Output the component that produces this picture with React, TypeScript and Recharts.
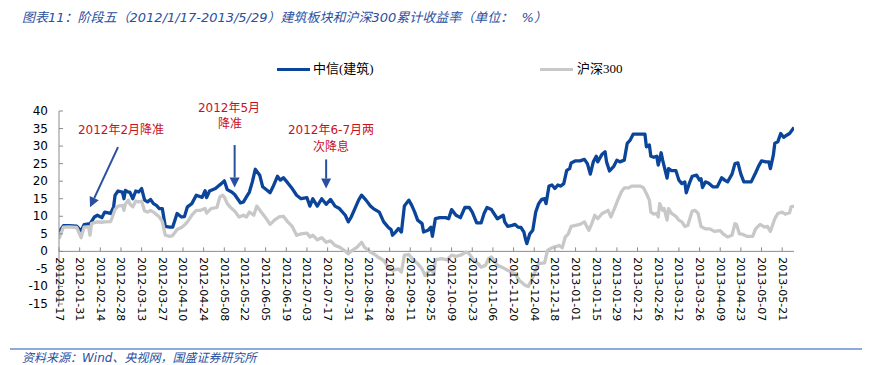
import React from 'react';
import { LineChart, Line, XAxis, YAxis, ReferenceLine } from 'recharts';

// x = calendar days since 2012-01-17, y = cumulative return (%)
const citicDays = [
  0, 3, 7, 12, 15, 17, 20, 21, 22, 24, 26, 29, 31, 35, 37, 38, 40, 43, 44, 45, 47, 48, 50, 52, 54, 56, 58, 60, 62, 64,
  66, 68, 70, 72, 75, 77, 80, 83, 85, 87, 90, 93, 97, 99, 100, 102, 106, 108, 110, 112, 114, 117, 119, 121, 123, 125,
  127, 129, 131, 133, 136, 138, 141, 143, 145, 148, 150, 152, 155, 158, 161, 164, 168, 170, 172, 175, 178, 181, 184,
  187, 190, 194, 196, 198, 201, 203, 205, 208, 211, 213, 215, 217, 220, 223, 225, 226, 228, 230, 232, 234, 237, 239,
  241, 243, 246, 247, 250, 252, 253, 255, 258, 262, 264, 266, 269, 272, 275, 278, 280, 283, 286, 288, 290, 293, 297,
  299, 301, 302, 304, 307, 309, 311, 313, 315, 316, 317, 319, 321, 323, 325, 327, 329, 330, 332, 334, 336, 338, 340,
  342, 344, 346, 347, 350, 353, 356, 358, 360, 362, 364, 365, 368, 370, 371, 373, 376, 378, 380, 383, 385, 387, 389,
  394, 397, 398, 400, 401, 403, 405, 406, 408, 409, 412, 413, 415, 418, 420, 422, 424, 425, 427, 429, 432, 434, 435,
  436, 438, 440, 443, 446, 449, 451, 453, 456, 458, 460, 462, 464, 467, 469, 472, 474, 476, 479, 481, 482, 484, 485,
  487, 489, 491, 493, 495, 498,
];
const citic = [
  5.5, 7.3, 7.3, 7.2, 5.8, 7.6, 7.8, 7.8, 8.5, 9.8, 10.3, 9.6, 11.2, 10.8, 12.7, 16.0, 17.2, 16.9, 15.0, 17.4, 16.9,
  16.9, 15.0, 17.2, 16.9, 17.9, 14.6, 14.1, 14.8, 13.6, 13.1, 12.2, 12.2, 7.1, 6.9, 6.9, 10.8, 9.8, 9.9, 12.7, 13.6,
  16.0, 15.4, 17.3, 15.3, 17.2, 17.9, 18.6, 19.3, 20.1, 17.6, 16.9, 16.2, 15.0, 13.8, 14.1, 15.5, 16.9, 19.8, 23.4,
  21.7, 18.4, 17.4, 16.7, 18.4, 21.4, 20.3, 21.0, 19.5, 17.9, 16.0, 15.0, 15.3, 12.9, 15.0, 12.9, 15.0, 13.4, 14.8,
  12.9, 12.2, 10.3, 8.4, 9.8, 12.7, 14.6, 16.0, 14.6, 12.9, 12.2, 11.7, 11.2, 8.4, 6.9, 6.2, 4.6, 5.5, 6.5, 5.5, 12.9,
  14.6, 13.1, 11.2, 8.9, 7.9, 5.5, 6.0, 6.9, 4.3, 9.3, 9.6, 9.6, 9.3, 11.9, 10.3, 9.6, 12.5, 12.5, 11.2, 8.1, 8.1,
  10.8, 12.5, 11.9, 9.3, 9.8, 10.3, 8.4, 7.1, 7.4, 7.7, 6.9, 6.8, 5.5, 3.6, 2.2, 5.0, 6.0, 11.2, 13.6, 14.8, 15.0,
  13.6, 18.6, 18.9, 17.9, 18.9, 18.6, 19.3, 23.1, 23.6, 25.2, 25.8, 25.8, 26.2, 25.0, 22.0, 25.5, 27.1, 25.5, 27.7,
  28.4, 25.5, 22.9, 24.3, 26.0, 25.5, 26.0, 30.8, 31.7, 33.4, 33.4, 33.4, 29.8, 30.3, 27.1, 26.8, 27.1, 24.6, 28.1,
  26.0, 20.9, 23.6, 23.0, 23.0, 20.3, 19.3, 19.8, 16.7, 19.3, 21.4, 21.7, 20.3, 20.7, 18.2, 19.8, 19.5, 18.4, 18.4,
  21.0, 20.3, 19.8, 22.0, 25.0, 25.2, 22.0, 19.8, 19.8, 19.8, 22.4, 24.3, 25.8, 25.5, 25.5, 23.6, 27.4, 30.8, 31.2,
  33.6, 32.5, 33.1, 33.6, 35.3,
];

const hs300Days = [
  0, 3, 7, 12, 15, 17, 20, 21, 22, 24, 26, 29, 31, 35, 37, 38, 40, 43, 44, 45, 47, 48, 50, 52, 54, 56, 58, 60, 62, 64,
  66, 68, 70, 72, 75, 77, 80, 83, 85, 87, 90, 93, 96, 99, 100, 103, 107, 109, 111, 112, 114, 117, 119, 122, 125, 127,
  129, 132, 134, 137, 140, 143, 146, 149, 152, 155, 158, 161, 164, 168, 170, 172, 175, 178, 181, 184, 187, 190, 194,
  196, 198, 202, 205, 207, 211, 214, 216, 220, 223, 226, 230, 232, 234, 237, 240, 243, 246, 248, 250, 252, 254, 255,
  259, 263, 266, 269, 272, 276, 278, 281, 284, 286, 289, 291, 293, 295, 297, 300, 304, 309, 312, 316, 318, 320, 323,
  325, 329, 331, 333, 335, 337, 339, 341, 343, 345, 347, 350, 353, 356, 359, 361, 363, 365, 368, 370, 372, 374, 377,
  379, 381, 383, 386, 388, 391, 394, 396, 398, 400, 401, 403, 405, 406, 407, 409, 410, 412, 413, 415, 418, 420, 422,
  424, 426, 429, 431, 433, 435, 438, 441, 444, 448, 450, 453, 456, 458, 459, 461, 463, 466, 470, 472, 475, 478, 480,
  482, 485, 487, 490, 492, 495, 496, 498,
];
const hs300 = [
  3.6, 6.9, 7.0, 6.8, 3.9, 6.9, 7.0, 4.6, 7.9, 8.2, 8.4, 8.3, 8.4, 8.5, 10.8, 12.0, 12.9, 13.1, 11.7, 13.5, 14.6,
  13.5, 12.7, 14.3, 14.1, 14.3, 11.5, 11.2, 11.7, 11.2, 10.5, 9.8, 8.5, 4.6, 4.3, 4.5, 6.2, 6.8, 7.5, 8.4, 10.3, 11.7,
  11.7, 12.2, 10.9, 12.2, 12.5, 15.5, 16.0, 15.5, 13.6, 12.2, 11.5, 9.8, 10.3, 9.8, 11.2, 10.3, 12.9, 11.2, 9.6, 7.7,
  8.9, 9.8, 10.0, 8.4, 7.1, 4.6, 5.0, 5.2, 4.1, 4.6, 3.3, 3.9, 2.6, 3.0, 1.7, 1.2, 0.1, -0.7, 0.1, 1.2, 2.6, 1.2, -0.2,
  -0.9, -1.6, -2.6, -4.5, -5.4, -5.0, -5.9, -1.1, -0.9, -2.4, -3.5, -5.0, -6.9, -5.9, -5.0, -6.4, -2.4, -2.1, -2.4,
  -1.1, -1.4, -1.1, -0.2, -0.7, -2.6, -3.5, -4.5, -4.0, -2.1, -1.6, -2.6, -4.0, -4.5, -5.4, -6.4, -8.3, -9.7, -10.0,
  -8.3, -5.4, -3.5, -3.3, 0.3, 0.8, 1.2, 1.4, 1.7, 1.0, 4.1, 4.9, 7.1, 7.4, 7.7, 8.4, 6.0, 7.9, 10.3, 9.3, 10.8, 11.2,
  11.7, 9.8, 12.9, 15.0, 16.9, 18.1, 18.1, 18.6, 18.6, 18.6, 18.1, 16.5, 14.6, 11.2, 10.6, 10.8, 9.8, 13.6, 11.7, 12.2,
  8.9, 12.2, 10.8, 10.0, 8.9, 8.4, 7.1, 7.4, 11.5, 11.7, 10.8, 7.1, 6.4, 6.4, 5.7, 5.9, 5.0, 4.1, 4.6, 7.9, 7.7, 5.0,
  4.9, 4.3, 4.3, 6.4, 7.7, 6.9, 7.1, 5.7, 9.3, 10.8, 11.2, 10.6, 11.0, 12.7, 12.9,
];

const tickLabels = [
  '2012-01-17', '2012-01-31', '2012-02-14', '2012-02-28', '2012-03-13', '2012-03-27', '2012-04-10', '2012-04-24',
  '2012-05-08', '2012-05-22', '2012-06-05', '2012-06-19', '2012-07-03', '2012-07-17', '2012-07-31', '2012-08-14',
  '2012-08-28', '2012-09-11', '2012-09-25', '2012-10-09', '2012-10-23', '2012-11-06', '2012-11-20', '2012-12-04',
  '2012-12-18', '2013-01-01', '2013-01-15', '2013-01-29', '2013-02-12', '2013-02-26', '2013-03-12', '2013-03-26',
  '2013-04-09', '2013-04-23', '2013-05-07', '2013-05-21',
];
const yTicks = [-15, -10, -5, 0, 5, 10, 15, 20, 25, 30, 35, 40];

// annotation arrows: [startDay, startValue, endDay, endValue]
const arrows = [
  [40, 29.7, 21, 12.6],
  [119, 30.3, 119, 18.2],
  [181, 26.2, 181, 17.9],
];

const W = 874;
const H = 365;
const M = { top: 111, right: 80, bottom: 31, left: 9 };
const X_AXIS_H = 30;
const Y_MIN = -15;
const Y_MAX = 40;
const PLOT_H = H - M.top - M.bottom - X_AXIS_H;
const ZERO_Y = M.top + (PLOT_H * Y_MAX) / (Y_MAX - Y_MIN);

const BLUE = '#0b4599';
const GRAY = '#c8c8c8';
const AXIS = '#8c8c8c';
const RED = '#c8101e';
const NAVY = '#2a4f9f';
const NUM_FONT = '"DejaVu Sans", "Noto Sans CJK SC", sans-serif';
const CJK_FONT = '"Liberation Serif", "Noto Sans CJK SC", serif';

const citicData = citicDays.map((d, i) => ({ day: d, v: citic[i] }));
const hs300Data = hs300Days.map((d, i) => ({ day: d, v: hs300[i] }));
const xTicks = tickLabels.map((_, i) => i * 14);

function XTick(props: any) {
  const { x, payload } = props;
  const label = tickLabels[Math.round(payload.value / 14)];
  const ty = ZERO_Y + 6;
  return (
    <g>
      <line x1={x} x2={x} y1={ZERO_Y - 4} y2={ZERO_Y} stroke={AXIS} />
      <text
        x={x}
        y={ty}
        transform={`rotate(90 ${x} ${ty})`}
        textAnchor="start"
        dominantBaseline="central"
        fontSize={11}
        fontFamily={NUM_FONT}
        fill="#000"
      >
        {label}
      </text>
    </g>
  );
}

function YTick(props: any) {
  const { x, y, payload } = props;
  return (
    <g>
      <line x1={x + 11} x2={x + 15} y1={y} y2={y} stroke={AXIS} />
      <text x={x} y={y} textAnchor="end" dominantBaseline="central" fontSize={12} fontFamily={NUM_FONT} fill="#000">
        {payload.value}
      </text>
    </g>
  );
}

function Arrow(props: any) {
  const { x1, y1, x2, y2 } = props;
  const a = Math.atan2(y2 - y1, x2 - x1);
  const len = 10;
  const hw = 5;
  const bx = x2 - len * Math.cos(a);
  const by = y2 - len * Math.sin(a);
  const px = -Math.sin(a) * hw;
  const py = Math.cos(a) * hw;
  return (
    <g>
      <line x1={x1} y1={y1} x2={bx} y2={by} stroke={NAVY} strokeWidth={2} />
      <polygon points={`${x2},${y2} ${bx + px},${by + py} ${bx - px},${by - py}`} fill={NAVY} />
    </g>
  );
}

const note = (text: string, cx: number, cy: number) => (
  <div
    style={{
      position: 'absolute',
      left: cx,
      top: cy,
      transform: 'translate(-50%, -50%)',
      color: RED,
      fontSize: 12,
      lineHeight: 1,
      whiteSpace: 'nowrap',
      fontFamily: NUM_FONT,
    }}
  >
    {text}
  </div>
);

export default function App() {
  return (
    <div style={{ position: 'absolute', left: 0, top: 0, width: W, height: H, background: '#fff', overflow: 'hidden' }}>
      <div
        style={{
          position: 'absolute',
          left: 22,
          top: 7,
          fontSize: 13,
          fontStyle: 'italic',
          color: NAVY,
          whiteSpace: 'pre',
          fontFamily: NUM_FONT,
        }}
      >
        图表11：阶段五（2012/1/17-2013/5/29）建筑板块和沪深300累计收益率（单位：  %）
      </div>

      <div style={{ position: 'absolute', left: 0, top: 60, width: W, height: 20, fontFamily: CJK_FONT, fontSize: 13 }}>
        <div style={{ position: 'absolute', left: 277, top: 8, width: 33, height: 3, background: BLUE }} />
        <div style={{ position: 'absolute', left: 313, top: 1, lineHeight: '16px' }}>中信(建筑)</div>
        <div style={{ position: 'absolute', left: 540, top: 8, width: 33, height: 3, background: GRAY }} />
        <div style={{ position: 'absolute', left: 577, top: 1, lineHeight: '16px' }}>沪深300</div>
      </div>

      <div style={{ position: 'absolute', left: 0, top: 0 }}>
        <LineChart width={W} height={H} margin={M}>
          <XAxis
            type="number"
            dataKey="day"
            domain={[0, 498]}
            ticks={xTicks}
            interval={0}
            height={X_AXIS_H}
            axisLine={false}
            tickLine={false}
            tick={<XTick />}
            allowDataOverflow
          />
          <YAxis
            type="number"
            domain={[Y_MIN, Y_MAX]}
            ticks={yTicks}
            interval={0}
            width={50}
            tickLine={false}
            tickSize={0}
            tickMargin={11}
            axisLine={{ stroke: AXIS }}
            tick={<YTick />}
            allowDataOverflow
          />
          <ReferenceLine y={0} stroke={AXIS} />
          <Line
            data={citicData}
            dataKey="v"
            stroke={BLUE}
            strokeWidth={3.3}
            dot={false}
            activeDot={false}
            isAnimationActive={false}
            strokeLinejoin="round"
          />
          <Line
            data={hs300Data}
            dataKey="v"
            stroke={GRAY}
            strokeWidth={3.3}
            dot={false}
            activeDot={false}
            isAnimationActive={false}
            strokeLinejoin="round"
          />
          {arrows.map((a, i) => (
            <ReferenceLine
              key={i}
              segment={[
                { x: a[0], y: a[1] },
                { x: a[2], y: a[3] },
              ]}
              ifOverflow="visible"
              shape={<Arrow />}
            />
          ))}
        </LineChart>
      </div>

      {note('2012年2月降准', 121, 130)}
      {note('2012年5月', 229, 108)}
      {note('降准', 230, 124)}
      {note('2012年6-7月两', 331, 130)}
      {note('次降息', 331, 147)}

      <div style={{ position: 'absolute', left: 10, top: 348, width: 852, height: 1.5, background: '#8eaadb' }} />
      <div
        style={{
          position: 'absolute',
          left: 22,
          top: 352,
          fontSize: 12,
          lineHeight: '12px',
          fontStyle: 'italic',
          color: NAVY,
          whiteSpace: 'nowrap',
          fontFamily: NUM_FONT,
        }}
      >
        资料来源：Wind、央视网，国盛证券研究所
      </div>
    </div>
  );
}
